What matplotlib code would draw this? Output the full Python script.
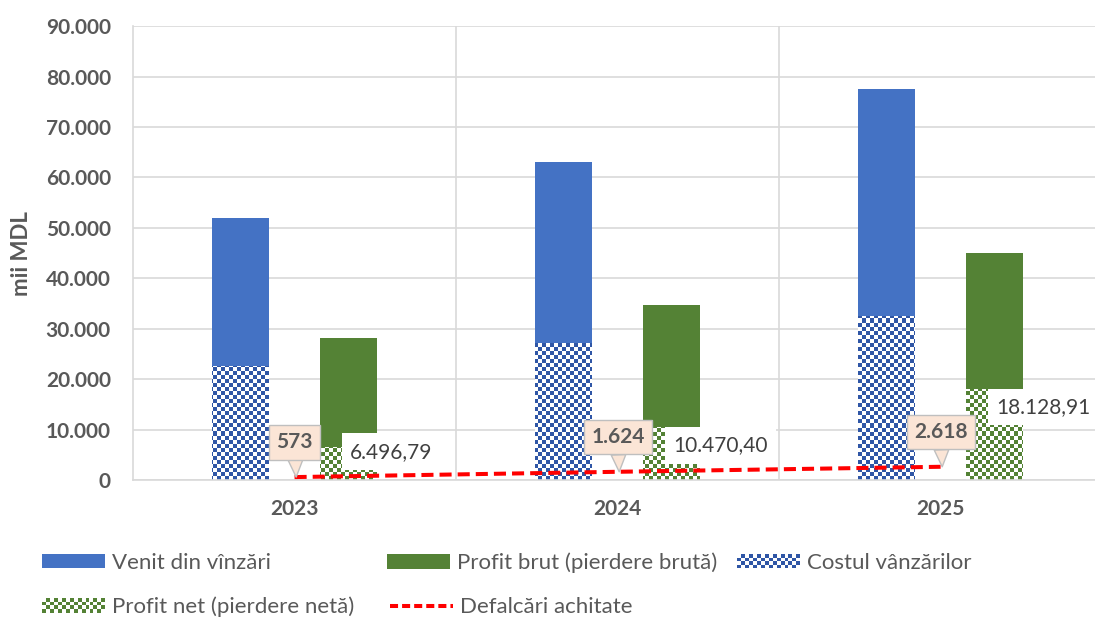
import numpy as np
import matplotlib
matplotlib.use("Agg")
import matplotlib.pyplot as plt
from matplotlib.colors import to_rgb
from matplotlib.patches import Rectangle
from matplotlib.lines import Line2D
from matplotlib.legend_handler import HandlerBase
from matplotlib.ticker import FuncFormatter

# data (mii MDL)
years = ["2023", "2024", "2025"]
venit = [52000, 63100, 77600]          # Venit din vinzari
cost = [22650, 27200, 32550]           # Costul vanzarilor
profit_brut = [28200, 34700, 45050]    # Profit brut
profit_net = [6496.79, 10470.40, 18128.91]
defalcari = [573, 1624, 2618]

blue = "#4472C4"
blue_chk = "#2F56A6"
green = "#548235"
grey_txt = "#595959"
grid_c = "#D9D9D9"

plt.rcParams["font.family"] = ["Lato", "DejaVu Sans"]

fig = plt.figure(figsize=(10.95, 6.19), dpi=100)
ax = fig.add_axes([0.1215, 0.2246, 0.885, 0.733])

x = np.arange(len(years))
w = 0.176
off = 0.168

bars_v = ax.bar(x - off, venit, w, color=blue, zorder=2)
bars_c = ax.bar(x - off, cost, w, facecolor="none", edgecolor="none", zorder=2.5)
bars_b = ax.bar(x + off, profit_brut, w, color=green, zorder=2)
bars_n = ax.bar(x + off, profit_net, w, facecolor="none", edgecolor="none", zorder=2.5)


def checker(color, ny, nx):
    img = np.ones((ny, nx, 3))
    mask = (np.add.outer(np.arange(ny), np.arange(nx)) % 2).astype(bool)
    img[mask] = to_rgb(color)
    return img


xlim = (-0.5, 2.5)
ylim = (0, 90000)
# checkerboard pattern, ~4 px per cell, clipped to each bar
ny, nx = 113, 242
for bars, col in [(bars_c, blue_chk), (bars_n, green)]:
    img = checker(col, ny, nx)
    for r in bars:
        im = ax.imshow(img, extent=(xlim[0], xlim[1], ylim[0], ylim[1]),
                       aspect="auto", interpolation="nearest", zorder=2.5)
        im.set_clip_path(r)

ax.set_xlim(*xlim)
ax.set_ylim(*ylim)


def fmt_thousands(v, pos=None):
    return f"{v:,.0f}".replace(",", ".")


def fmt_dec(v):
    return f"{v:,.2f}".replace(",", "X").replace(".", ",").replace("X", ".")


ax.yaxis.set_major_formatter(FuncFormatter(fmt_thousands))
ax.set_yticks(np.arange(0, 90001, 10000))
ax.set_xticks(x)
ax.set_xticklabels(years)
ax.set_xticks([0.5, 1.5, 2.5], minor=True)
ax.tick_params(axis="x", which="both", length=0, pad=14)
ax.tick_params(axis="y", length=0, pad=16)
for lab in ax.get_xticklabels():
    lab.set_fontsize(15)
    lab.set_fontweight("bold")
    lab.set_color(grey_txt)
for lab in ax.get_yticklabels():
    lab.set_fontsize(15)
    lab.set_fontweight("bold")
    lab.set_color(grey_txt)

ax.grid(axis="y", color=grid_c, lw=1.2, zorder=0)
ax.grid(axis="x", which="minor", color=grid_c, lw=1.2, zorder=0)
ax.set_axisbelow(True)
for s in ["top", "right"]:
    ax.spines[s].set_visible(False)
for s in ["left", "bottom"]:
    ax.spines[s].set_color(grid_c)
    ax.spines[s].set_linewidth(1.2)

ax.set_ylabel("mii MDL", fontsize=16, fontweight="bold", color=grey_txt)
ax.yaxis.set_label_coords(-0.104, 0.5)

# red dashed line
ax.plot(x, defalcari, color="#FF0000", lw=2.9, ls=(0, (3, 1.5)), zorder=4)

# profit net labels (white boxes)
dy = [10, 0, 0]
for i, v in enumerate(profit_net):
    ax.annotate(fmt_dec(v), xy=(x[i] + off, v), xytext=(1, dy[i] - 6),
                textcoords="offset points", ha="left", va="top",
                fontsize=15, color="#404040", zorder=3.5,
                bbox=dict(boxstyle="square,pad=0.4", fc="white", ec="none"))

# callouts for Defalcari
for i, v in enumerate(defalcari):
    ax.annotate(fmt_thousands(v), xy=(x[i] + 0.005, v), xytext=(-1, 25),
                textcoords="offset points", ha="center", va="center",
                fontsize=15, fontweight="bold", color=grey_txt, zorder=6,
                bbox=dict(boxstyle="square,pad=0.35", fc="#FBE5D6", ec="#BFBFBF", lw=1),
                arrowprops=dict(arrowstyle="wedge,tail_width=0.7", fc="#FBE5D6",
                                ec="#BFBFBF", lw=1, shrinkA=0, shrinkB=0))


class HandlerChecker(HandlerBase):
    def __init__(self, color):
        super().__init__()
        self.color = color

    def create_artists(self, legend, orig_handle, xdescent, ydescent,
                       width, height, fontsize, trans):
        nx_ = int(round(width / 2.9))
        ny_ = max(int(round(height / 2.9)), 1)
        cw, ch = width / nx_, height / ny_
        arts = [Rectangle((-xdescent, -ydescent), width, height,
                          fc="white", ec="none", transform=trans)]
        for i in range(nx_):
            for j in range(ny_):
                if (i + j) % 2 == 0:
                    arts.append(Rectangle((-xdescent + i * cw, -ydescent + j * ch),
                                          cw, ch, fc=self.color, ec="none",
                                          transform=trans))
        return arts


h_venit = Rectangle((0, 0), 1, 1, fc=blue)
h_brut = Rectangle((0, 0), 1, 1, fc=green)
h_cost = Rectangle((0, 0), 1, 1)
h_net = Rectangle((0, 0), 1, 1)
h_def = Line2D([], [], color="#FF0000", lw=2.9, ls=(0, (2, 1)))

entries = [
    (h_venit, "Venit din vînzări", 42, 563, None),
    (h_brut, "Profit brut (pierdere brută)", 387, 563, None),
    (h_cost, "Costul vânzărilor", 737, 563, HandlerChecker(blue_chk)),
    (h_net, "Profit net (pierdere netă)", 42, 607, HandlerChecker(green)),
    (h_def, "Defalcări achitate", 390, 607, None),
]
W, H = 1095, 619
for h, lab, px, py, hd in entries:
    kw = {}
    if hd is not None:
        kw["handler_map"] = {h: hd}
    leg = fig.legend([h], [lab], loc="center left",
                     bbox_to_anchor=(px / W, 1 - py / H), frameon=False,
                     borderpad=0, borderaxespad=0, handlelength=2.85,
                     handleheight=0.6, handletextpad=0.3, fontsize=16, **kw)
    for t in leg.get_texts():
        t.set_color(grey_txt)

fig.savefig("out.png", dpi=100)
